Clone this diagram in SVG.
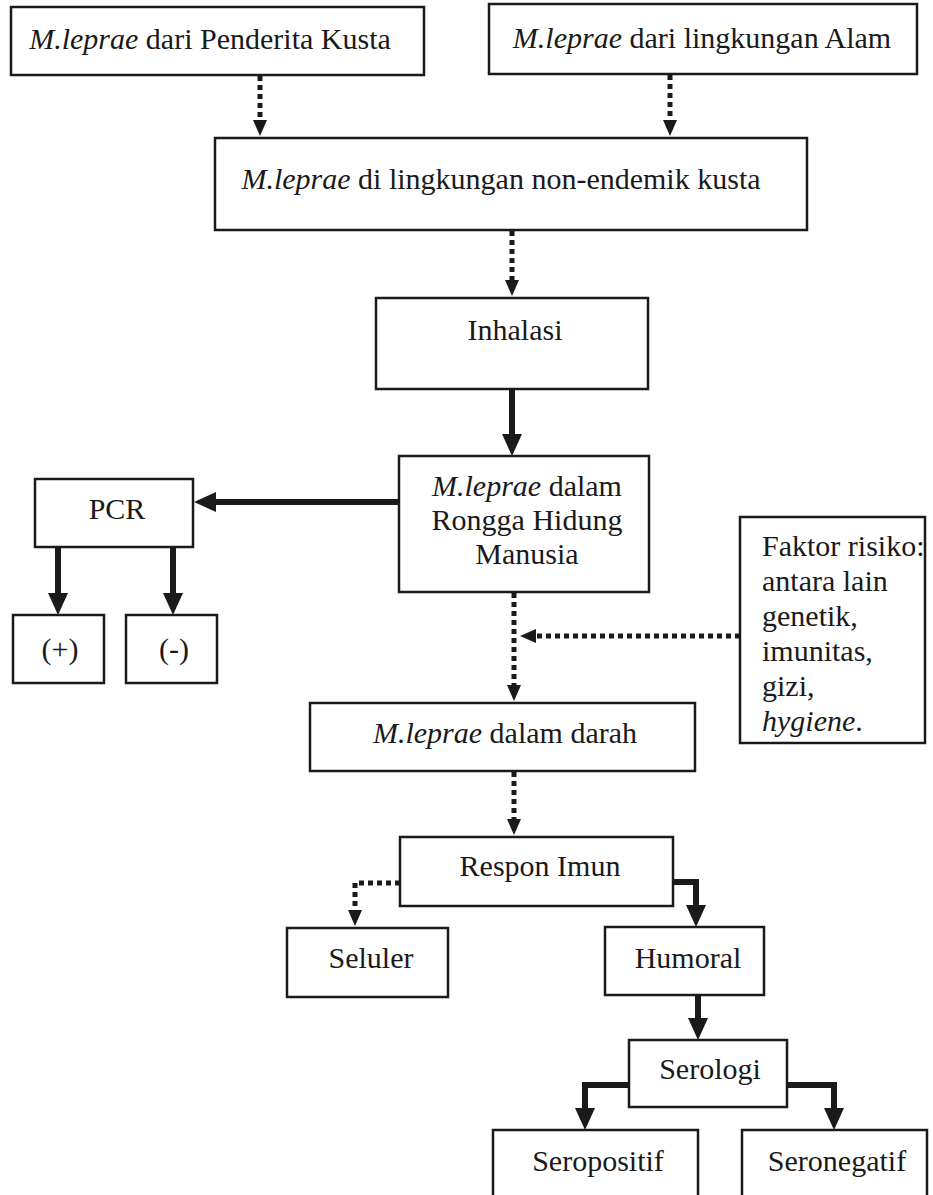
<svg xmlns="http://www.w3.org/2000/svg" width="933" height="1195" viewBox="0 0 933 1195">
<style>
.box{fill:#fff;stroke:#1a1a1a;stroke-width:2.5}
text{font-family:"Liberation Serif","Times New Roman",serif;font-size:30px;fill:#1a1a1a}
.c{text-anchor:middle}
.i{font-style:italic}
.solid{fill:none;stroke:#1a1a1a;stroke-width:6}
.dot{fill:none;stroke:#1a1a1a;stroke-width:5;stroke-dasharray:5 4}
</style>
<defs>
<marker id="hs" markerUnits="userSpaceOnUse" markerWidth="24" markerHeight="24" viewBox="0 0 24 24" refX="14" refY="12" orient="auto"><path d="M0,2 L22,12 L0,22 Z" fill="#1a1a1a"/></marker>
<marker id="hd" markerUnits="userSpaceOnUse" markerWidth="18" markerHeight="18" viewBox="0 0 18 18" refX="10" refY="9" orient="auto"><path d="M0,2 L16,9 L0,16 Z" fill="#1a1a1a"/></marker>
</defs>
<rect width="933" height="1195" fill="#fff"/>
<g id="connectors">
<path class="dot" d="M260,76 V130" marker-end="url(#hd)"/>
<path class="dot" d="M670,75 V130" marker-end="url(#hd)"/>
<path class="dot" d="M512,231 V290" marker-end="url(#hd)"/>
<path class="solid" d="M512,390 V448" marker-end="url(#hs)"/>
<path class="solid" d="M399,502 H202" marker-end="url(#hs)"/>
<path class="solid" d="M58,548 V607" marker-end="url(#hs)"/>
<path class="solid" d="M173,548 V607" marker-end="url(#hs)"/>
<path class="dot" d="M514,593 V695" marker-end="url(#hd)"/>
<path class="dot" d="M740,636 H526" marker-end="url(#hd)"/>
<path class="dot" d="M514,772 V829" marker-end="url(#hd)"/>
<path class="dot" d="M400,883 H355 V920" marker-end="url(#hd)"/>
<path class="solid" d="M673,882 H696 V919" marker-end="url(#hs)"/>
<path class="solid" d="M698,996 V1032" marker-end="url(#hs)"/>
<path class="solid" d="M629,1085 H585 V1122" marker-end="url(#hs)"/>
<path class="solid" d="M787,1085 H834 V1122" marker-end="url(#hs)"/>
</g>
<g id="n1"><rect class="box" x="11" y="7" width="413" height="68"/><text class="c" x="210" y="49"><tspan class="i">M.leprae</tspan> dari Penderita Kusta</text></g>
<g id="n2"><rect class="box" x="489" y="4" width="428" height="70"/><text class="c" x="702" y="48"><tspan class="i">M.leprae</tspan> dari lingkungan Alam</text></g>
<g id="n3"><rect class="box" x="215" y="138" width="592" height="92"/><text class="c" x="501" y="189"><tspan class="i">M.leprae</tspan> di lingkungan non-endemik kusta</text></g>
<g id="n4"><rect class="box" x="376" y="298" width="272" height="91"/><text class="c" x="515" y="340">Inhalasi</text></g>
<g id="n5"><rect class="box" x="399" y="456" width="250" height="136"/><text class="c" x="527" y="496"><tspan class="i">M.leprae</tspan> dalam</text><text class="c" x="527" y="530">Rongga Hidung</text><text class="c" x="527" y="564">Manusia</text></g>
<g id="n6"><rect class="box" x="35" y="479" width="158" height="68"/><text class="c" x="117" y="519">PCR</text></g>
<g id="n7"><rect class="box" x="13" y="615" width="91" height="68"/><text class="c" x="60" y="659">(+)</text></g>
<g id="n8"><rect class="box" x="126" y="615" width="91" height="68"/><text class="c" x="174" y="659">(-)</text></g>
<g id="n9"><rect class="box" x="740" y="517" width="185" height="226"/>
<text x="762" y="556">Faktor risiko:</text>
<text x="762" y="591">antara lain</text>
<text x="762" y="626">genetik,</text>
<text x="762" y="661">imunitas,</text>
<text x="762" y="696">gizi,</text>
<text x="762" y="731"><tspan class="i">hygiene</tspan>.</text></g>
<g id="n10"><rect class="box" x="310" y="703" width="385" height="68"/><text class="c" x="505" y="743"><tspan class="i">M.leprae</tspan> dalam darah</text></g>
<g id="n11"><rect class="box" x="400" y="837" width="273" height="69"/><text class="c" x="540" y="876">Respon Imun</text></g>
<g id="n12"><rect class="box" x="287" y="928" width="161" height="69"/><text class="c" x="371" y="968">Seluler</text></g>
<g id="n13"><rect class="box" x="605" y="927" width="159" height="68"/><text class="c" x="688" y="968">Humoral</text></g>
<g id="n14"><rect class="box" x="629" y="1040" width="158" height="67"/><text class="c" x="710" y="1079">Serologi</text></g>
<g id="n15"><rect class="box" x="493" y="1130" width="205" height="80"/><text class="c" x="598" y="1171">Seropositif</text></g>
<g id="n16"><rect class="box" x="742" y="1130" width="185" height="80"/><text class="c" x="837" y="1171">Seronegatif</text></g>
</svg>
